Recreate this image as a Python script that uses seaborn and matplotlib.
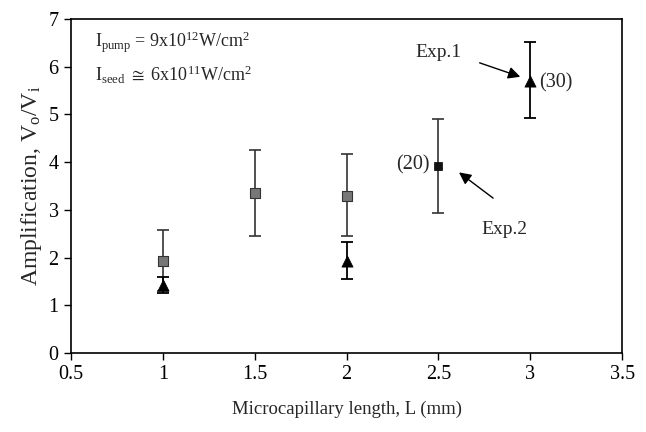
import pandas as pd
import seaborn as sns
import matplotlib.pyplot as plt

# Exp.1 (triangles)
exp1_L = [1.0, 2.0, 3.0]
exp1_amp = [1.42, 1.93, 5.70]
exp1_lo = [1.25, 1.55, 4.93]
exp1_hi = [1.60, 2.32, 6.51]

# Exp.2 (squares)
exp2_L = [1.0, 1.5, 2.0, 2.5]
exp2_amp = [1.93, 3.35, 3.30, 3.92]
exp2_lo = [1.29, 2.45, 2.45, 2.94]
exp2_hi = [2.57, 4.25, 4.17, 4.91]

x_ticks = [0.5, 1, 1.5, 2, 2.5, 3, 3.5]
y_ticks = [0, 1, 2, 3, 4, 5, 6, 7]


def plotar():
    sns.set_theme(style="ticks")
    plt.rcParams['font.family'] = ['Liberation Serif', 'DejaVu Serif']
    plt.rcParams.update({
        "font.size": 13,
        "mathtext.fontset": "custom",
        "mathtext.rm": "Liberation Serif",
        "mathtext.it": "Liberation Serif",
        "xtick.direction": "out",
        "ytick.direction": "out",
    })

    d1 = pd.DataFrame({"L": exp1_L, "A": exp1_amp, "lo": exp1_lo, "hi": exp1_hi})
    d2 = pd.DataFrame({"L": exp2_L, "A": exp2_amp, "lo": exp2_lo, "hi": exp2_hi})

    fig = plt.figure(figsize=(6.46, 4.32), dpi=100)
    ax = fig.add_axes([0.110, 0.183, 0.853, 0.773])

    ax.errorbar(d2["L"], d2["A"], yerr=[d2["A"] - d2["lo"], d2["hi"] - d2["A"]],
                fmt='none', ecolor='#333333', elinewidth=1.2, capsize=4.5, capthick=1.2)
    ax.errorbar(d1["L"], d1["A"], yerr=[d1["A"] - d1["lo"], d1["hi"] - d1["A"]],
                fmt='none', ecolor='black', elinewidth=1.3, capsize=4.5, capthick=1.3)

    # gris pointillé pour les trois premiers, noir pour (20)
    sns.scatterplot(data=d2.iloc[:3], x="L", y="A", marker='s', s=45, color='#777777',
                    edgecolor='#333333', linewidth=0.8, ax=ax, zorder=3)
    sns.scatterplot(data=d2.iloc[3:], x="L", y="A", marker='s', s=32, color='#111111',
                    edgecolor='black', linewidth=0.5, ax=ax, zorder=3)
    sns.scatterplot(data=d1, x="L", y="A", marker='^', s=65, color='black',
                    edgecolor='black', linewidth=0.5, ax=ax, zorder=3)

    ax.set_xlim(0.5, 3.5)
    ax.set_ylim(0, 7)
    ax.set_xticks(x_ticks)
    ax.set_xticklabels(['0.5', '1', '1.5', '2', '2.5', '3', '3.5'])
    ax.set_yticks(y_ticks)
    ax.tick_params(length=5, width=1, colors='black', labelsize=14.5, pad=4)
    for s in ax.spines.values():
        s.set_linewidth(1.2)
        s.set_color('black')

    ax.set_xlabel('Microcapillary length, L (mm)', fontsize=13.5, labelpad=12)
    ax.set_ylabel(r'Amplification, V$_{\rm o}$/V$_{\rm i}$', fontsize=17, labelpad=3)

    ax.text(0.63, 6.52, r'I$_{\rm pump}$ = 9x10$^{12}$W/cm$^{2}$', fontsize=13, va='center')
    ax.text(0.63, 5.83, r'I$_{\rm seed}$ $\cong$ 6x10$^{11}$W/cm$^{2}$', fontsize=13, va='center')

    ax.annotate('', xy=(2.96, 5.77), xytext=(2.71, 6.10),
                arrowprops=dict(arrowstyle='-|>', color='black', lw=1, mutation_scale=18))
    ax.text(2.50, 6.29, 'Exp.1', fontsize=14, ha='center', va='center')
    ax.text(3.05, 5.66, '(30)', fontsize=14.5, ha='left', va='center')

    ax.annotate('', xy=(2.60, 3.82), xytext=(2.81, 3.21),
                arrowprops=dict(arrowstyle='-|>', color='black', lw=1, mutation_scale=18))
    ax.text(2.86, 2.58, 'Exp.2', fontsize=14, ha='center', va='center')
    ax.text(2.454, 3.94, '(20)', fontsize=14.5, ha='right', va='center')

    ax.grid(False)
    plt.savefig('out.png', dpi=100)
    plt.close()


plotar()
